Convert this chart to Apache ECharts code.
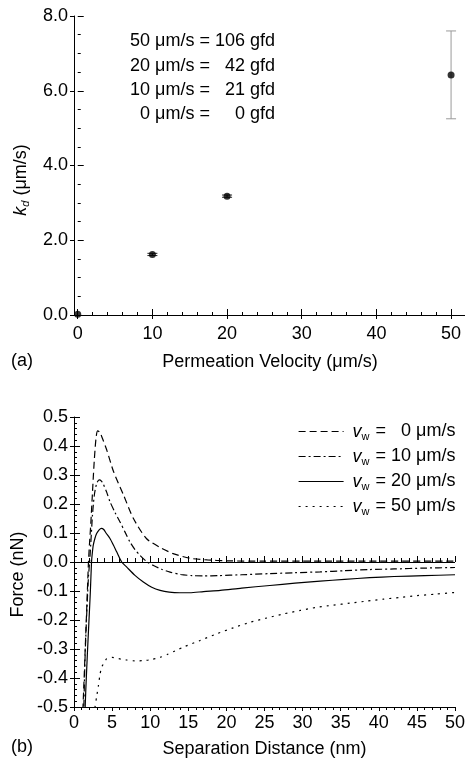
<!DOCTYPE html>
<html><head><meta charset="utf-8">
<script src="https://cdn.jsdelivr.net/npm/echarts@6/dist/echarts.min.js"></script>
<style>html,body{margin:0;padding:0;background:#fff}#c{width:465px;height:760px}</style>
</head><body><div id="c"></div>
<script>
const FONT = '"Liberation Sans", Arial, Helvetica, sans-serif';

// ---------- Panel (a) data ----------
const permVelocity = [0, 10, 20, 50];
const kd = [0.02, 1.62, 3.18, 6.42];
const kdLow = [0.02, 1.59, 3.15, 5.25];
const kdHigh = [0.02, 1.65, 3.21, 7.60];
const xTicksA = [0, 10, 20, 30, 40, 50];
const xMinorTicksA = [2, 4, 6, 8, 12, 14, 16, 18, 22, 24, 26, 28, 32, 34, 36, 38, 42, 44, 46, 48];
const annoVelocity = ['50', '20', '10', '0'];
const annoGfd = ['106', '42', '21', '0'];

// ---------- Panel (b) data ----------
const vwLabels = ['0', '10', '20', '50'];
const dist0 = [1.1, 1.3, 1.5, 1.7, 1.9, 2.05, 2.2, 2.43, 2.65, 2.89, 3.1, 3.4, 3.85, 4.3, 5.2, 6.5, 7.8, 9.5, 11.3, 13.0, 15.2, 17.5, 20, 25, 30, 40, 50];
const force0 = [-0.55, -0.42, -0.28, -0.14, 0.0, 0.07, 0.13, 0.242, 0.346, 0.427, 0.452, 0.447, 0.418, 0.386, 0.311, 0.231, 0.150, 0.081, 0.050, 0.029, 0.013, 0.007, 0.004, 0.003, 0.003, 0.003, 0.003];
const dist10 = [1.25, 1.45, 1.7, 1.9, 2.05, 2.19, 2.42, 2.67, 2.98, 3.3, 3.6, 3.85, 4.3, 4.72, 5.4, 6.04, 6.7, 7.35, 8.0, 8.66, 9.6, 10.5, 11.5, 12.6, 14, 15.5, 17, 19, 22, 25.7, 29, 32.3, 35.5, 38.8, 42, 46, 50];
const force10 = [-0.55, -0.33, -0.16, -0.05, 0.0, 0.058, 0.16, 0.231, 0.271, 0.283, 0.279, 0.268, 0.24, 0.208, 0.17, 0.138, 0.103, 0.069, 0.043, 0.023, 0.0, -0.013, -0.025, -0.035, -0.043, -0.047, -0.048, -0.047, -0.044, -0.040, -0.037, -0.034, -0.030, -0.026, -0.024, -0.021, -0.019];
const dist20 = [1.4, 1.55, 1.75, 1.95, 2.15, 2.3, 2.4, 2.53, 2.75, 2.97, 3.3, 3.6, 3.9, 4.2, 4.72, 5.2, 5.6, 6.26, 6.9, 8.0, 9.1, 10.2, 11.3, 12.5, 13.9, 15.2, 17, 19.2, 22, 25.7, 29, 32.3, 35.5, 38.8, 42, 46, 50];
const force20 = [-0.55, -0.44, -0.32, -0.21, -0.10, 0.0, 0.03, 0.058, 0.082, 0.098, 0.111, 0.116, 0.112, 0.1, 0.081, 0.057, 0.035, 0.0, -0.017, -0.046, -0.069, -0.087, -0.098, -0.104, -0.106, -0.106, -0.102, -0.098, -0.090, -0.081, -0.073, -0.066, -0.060, -0.054, -0.050, -0.047, -0.044];
const dist50 = [2.6, 2.76, 3.0, 3.2, 3.4, 3.63, 4.0, 4.29, 5.0, 5.4, 6.2, 6.9, 8.0, 9.1, 10.0, 11.3, 12.3, 13.3, 14.3, 16.5, 18.7, 20.9, 23.1, 25.3, 27.5, 29.7, 31.9, 34, 36.2, 38.4, 40.6, 42.8, 45, 47.4, 50];
const force50 = [-0.55, -0.5, -0.46, -0.427, -0.39, -0.363, -0.345, -0.334, -0.329, -0.331, -0.335, -0.338, -0.341, -0.340, -0.337, -0.329, -0.318, -0.306, -0.294, -0.271, -0.248, -0.227, -0.208, -0.193, -0.179, -0.167, -0.156, -0.149, -0.142, -0.135, -0.128, -0.122, -0.116, -0.111, -0.105];

const pairs = (xs, ys) => xs.map((x, i) => [x, ys[i]]);
const txt = { color: '#000', fontFamily: FONT, fontSize: 18 };
const axLine = { show: true, onZero: false, lineStyle: { color: '#000', width: 1 } };
const tickStyle = { color: '#000', width: 1 };

const chart = echarts.init(document.getElementById('c'), null, { renderer: 'canvas' });

const lineStyles = [
  { type: [7, 4] },
  { type: [7, 3, 2, 3] },
  { type: 'solid' },
  { type: [2, 5] }
];
const curveData = [pairs(dist0, force0), pairs(dist10, force10), pairs(dist20, force20), pairs(dist50, force50)];
const seriesNames = vwLabels.map(v => 'vw' + v);

const curveSeries = curveData.map((d, i) => ({
  name: seriesNames[i], type: 'line', xAxisIndex: 3, yAxisIndex: 2,
  data: d, symbol: 'none', smooth: 0.25, clip: true,
  itemStyle: { color: '#000' },
  lineStyle: Object.assign({ color: '#000', width: 1.2 }, lineStyles[i]),
  markLine: i === 2 ? {
    silent: true, symbol: ['none', 'none'], label: { show: false },
    lineStyle: { type: 'solid', color: '#000', width: 1 },
    data: [{ yAxis: 0 }]
  } : undefined
}));

const annoGraphics = [];
annoVelocity.forEach((v, i) => {
  const y = 41.5 + i * 24.2;
  annoGraphics.push({ type: 'text', x: 210, y: y, style: { text: v + ' μm/s =', fill: '#000', font: '18px ' + FONT, align: 'right', verticalAlign: 'middle' } });
  annoGraphics.push({ type: 'text', x: 275, y: y, style: { text: annoGfd[i] + ' gfd', fill: '#000', font: '18px ' + FONT, align: 'right', verticalAlign: 'middle' } });
});

const option = {
  animation: false,
  backgroundColor: '#fff',
  grid: [
    { left: 74, right: -1, top: 16, bottom: 445, outerBoundsMode: 'none', containLabel: false },
    { left: 74, width: 381, top: 417, height: 290, outerBoundsMode: 'none', containLabel: false }
  ],
  xAxis: [
    { gridIndex: 0, type: 'value', position: 'bottom', min: -0.5, max: 52,
      axisLine: axLine, splitLine: { show: false },
      axisTick: { show: true, customValues: xTicksA, length: 4, lineStyle: tickStyle },
      axisLabel: Object.assign({ customValues: xTicksA, margin: 10 }, txt),
      name: 'Permeation Velocity (μm/s)', nameLocation: 'middle', nameGap: 38, nameTextStyle: txt },
    { gridIndex: 0, type: 'value', position: 'bottom', min: -0.5, max: 52,
      axisLine: { show: false }, splitLine: { show: false }, axisLabel: { show: false },
      axisTick: { show: true, inside: true, customValues: xTicksA, length: 6, lineStyle: tickStyle } },
    { gridIndex: 0, type: 'value', position: 'bottom', min: -0.5, max: 52,
      axisLine: { show: false }, splitLine: { show: false }, axisLabel: { show: false },
      axisTick: { show: true, inside: true, customValues: xMinorTicksA, length: 3, lineStyle: tickStyle } },
    { gridIndex: 1, type: 'value', position: 'bottom', min: 0, max: 50, interval: 5,
      axisLine: axLine, splitLine: { show: false },
      axisTick: { show: true, length: 4, lineStyle: tickStyle },
      minorTick: { show: true, splitNumber: 5, length: 3, lineStyle: tickStyle },
      axisLabel: Object.assign({ margin: 7 }, txt),
      name: 'Separation Distance (nm)', nameLocation: 'middle', nameGap: 33, nameTextStyle: txt },
    { gridIndex: 1, type: 'value', position: 'bottom', min: 0, max: 50, interval: 5,
      axisLine: { show: false }, splitLine: { show: false }, axisLabel: { show: false },
      axisTick: { show: true, inside: true, length: 6, lineStyle: tickStyle },
      minorTick: { show: true, splitNumber: 5, length: 4, lineStyle: tickStyle } }
  ],
  yAxis: [
    { gridIndex: 0, type: 'value', position: 'left', min: 0, max: 8, interval: 2,
      axisLine: axLine, splitLine: { show: false },
      axisTick: { show: true, length: 4, lineStyle: tickStyle },
      axisLabel: Object.assign({ margin: 6, formatter: v => v.toFixed(1) }, txt) },
    { gridIndex: 0, type: 'value', position: 'left', min: 0, max: 8, interval: 2,
      axisLine: { show: false }, splitLine: { show: false }, axisLabel: { show: false },
      axisTick: { show: true, inside: true, length: 6, lineStyle: tickStyle },
      minorTick: { show: true, splitNumber: 4, length: 3, lineStyle: tickStyle } },
    { gridIndex: 1, type: 'value', position: 'left', min: -0.5, max: 0.5, interval: 0.1,
      axisLine: axLine, splitLine: { show: false },
      axisTick: { show: true, length: 4, lineStyle: tickStyle },
      axisLabel: Object.assign({ margin: 6, formatter: v => (Math.abs(v) < 1e-9 ? '0.0' : v.toFixed(1)) }, txt) },
    { gridIndex: 1, type: 'value', position: 'left', min: -0.5, max: 0.5, interval: 0.1,
      axisLine: { show: false }, splitLine: { show: false }, axisLabel: { show: false },
      axisTick: { show: true, inside: true, length: 6, lineStyle: tickStyle },
      minorTick: { show: true, splitNumber: 5, length: 3, lineStyle: tickStyle } }
  ],
  legend: {
    orient: 'vertical', left: 298, top: 421, padding: 0,
    itemWidth: 45, itemHeight: 14, itemGap: 4, selectedMode: false,
    itemStyle: { opacity: 0 },
    lineStyle: { width: 1.2, color: '#000' },
    data: seriesNames,
    formatter: name => {
      const v = vwLabels[seriesNames.indexOf(name)];
      const num = v.length < 2 ? '\u2007' + v : v;
      return '{v|v}{w|w}{t| = ' + num + ' μm/s}';
    },
    textStyle: {
      color: '#000', fontFamily: FONT, fontSize: 18,
      rich: {
        v: { fontStyle: 'italic', fontSize: 18, lineHeight: 20, padding: [0, 0, 0, 4], fontFamily: FONT, color: '#000' },
        w: { fontSize: 11, lineHeight: 10, padding: [10, 1, 0, 0], fontFamily: FONT, color: '#000' },
        t: { fontSize: 18, lineHeight: 20, fontFamily: FONT, color: '#000' }
      }
    }
  },
  graphic: annoGraphics.concat([
    { type: 'text', x: 21, y: 180, rotation: Math.PI / 2,
      style: { text: '{i|k}{s|d}{n| (μm/s)}', align: 'center', verticalAlign: 'middle', fill: '#000', font: '18px ' + FONT,
        rich: { i: { fontStyle: 'italic', fontSize: 18, fontFamily: FONT, lineHeight: 20 },
                s: { fontStyle: 'italic', fontSize: 11, fontFamily: FONT, lineHeight: 10, padding: [10, 0, 0, 0] },
                n: { fontSize: 18, fontFamily: FONT, lineHeight: 20 } } } },
    { type: 'text', x: 18, y: 574.5, rotation: Math.PI / 2,
      style: { text: 'Force (nN)', align: 'center', verticalAlign: 'middle', fill: '#000', font: '18px ' + FONT } },
    { type: 'text', x: 11, y: 361, style: { text: '(a)', align: 'left', verticalAlign: 'middle', fill: '#000', font: '18px ' + FONT } },
    { type: 'text', x: 11, y: 747, style: { text: '(b)', align: 'left', verticalAlign: 'middle', fill: '#000', font: '18px ' + FONT } }
  ]),
  series: [
    { name: 'errorbars', type: 'custom', xAxisIndex: 0, yAxisIndex: 0, clip: false,
      data: permVelocity.map((x, i) => [x, kdLow[i], kdHigh[i]]),
      encode: { x: 0, y: [1, 2] },
      renderItem: (params, api) => {
        const x = api.value(0), lo = api.value(1), hi = api.value(2);
        if (hi - lo <= 0) return null;
        const pLo = api.coord([x, lo]), pHi = api.coord([x, hi]);
        const hw = 5;
        const stroke = (hi - lo) > 0.5 ? '#9a9a9a' : '#222';
        const st = { stroke: stroke, lineWidth: 1 };
        return { type: 'group', children: [
          { type: 'line', shape: { x1: pLo[0], y1: pLo[1], x2: pHi[0], y2: pHi[1] }, style: st },
          { type: 'line', shape: { x1: pLo[0] - hw, y1: pLo[1], x2: pLo[0] + hw, y2: pLo[1] }, style: st },
          { type: 'line', shape: { x1: pHi[0] - hw, y1: pHi[1], x2: pHi[0] + hw, y2: pHi[1] }, style: st }
        ] };
      } },
    { name: 'kd', type: 'scatter', xAxisIndex: 0, yAxisIndex: 0, clip: false,
      data: pairs(permVelocity, kd), symbol: 'circle', symbolSize: 7,
      itemStyle: { color: '#000' }, z: 5 }
  ].concat(curveSeries)
};
chart.setOption(option);
</script></body></html>
